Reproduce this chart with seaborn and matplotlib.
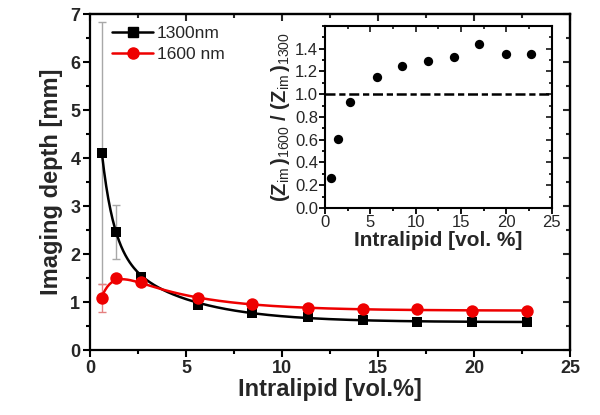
import numpy as np
import pandas as pd
import matplotlib
matplotlib.use("Agg")
import matplotlib.pyplot as plt
import seaborn as sns
from matplotlib.lines import Line2D
from matplotlib.ticker import MultipleLocator

# ---------------- data ----------------
conc = [0.62, 1.33, 2.68, 5.64, 8.46, 11.36, 14.2, 17.02, 19.92, 22.78]
depth_1300 = [4.10, 2.46, 1.52, 0.93, 0.77, 0.68, 0.63, 0.59, 0.59, 0.59]
err_1300 = [2.73, 0.56, 0.0, 0.0, 0.0, 0.0, 0.0, 0.0, 0.0, 0.0]
depth_1600 = [1.09, 1.51, 1.42, 1.09, 0.96, 0.88, 0.85, 0.85, 0.82, 0.82]
err_1600 = [0.29, 0.0, 0.0, 0.0, 0.0, 0.0, 0.0, 0.0, 0.0, 0.0]
ratio_conc = [0.68, 1.38, 2.76, 5.68, 8.5, 11.4, 14.2, 17.0, 19.9, 22.7]
ratio = [0.264, 0.61, 0.934, 1.15, 1.248, 1.295, 1.33, 1.44, 1.353, 1.353]

# fit-curve parameters
fit_1300 = dict(a=0.58, b1=5.31, t1=0.62, b2=1.85, t2=3.7)
fit_1600 = dict(a=0.82, b=1.2, t=3.8, c=2.14, t1=0.577)

labels = ["1300nm", "1600 nm"]
xticks_main = [0, 5, 10, 15, 20, 25]
yticks_main = [0, 1, 2, 3, 4, 5, 6, 7]
xticks_ins = [0, 5, 10, 15, 20, 25]
yticks_ins = [0.0, 0.2, 0.4, 0.6, 0.8, 1.0, 1.2, 1.4]

# ---------------- style ----------------
sns.set_theme(style="ticks")
plt.rcParams["font.family"] = ["Liberation Sans", "DejaVu Sans"]
plt.rcParams["mathtext.fontset"] = "custom"
plt.rcParams["mathtext.rm"] = "Liberation Sans"
plt.rcParams["mathtext.bf"] = "Liberation Sans:bold"
plt.rcParams["mathtext.it"] = "Liberation Sans:italic"

fig = plt.figure(figsize=(6, 4.15), dpi=100)
ax = fig.add_axes([0.15, 0.1566, 0.80, 0.8096])

xs = np.linspace(conc[0], conc[-1], 400)
p = fit_1300
y_fit1 = p["a"] + p["b1"] * np.exp(-xs / p["t1"]) + p["b2"] * np.exp(-xs / p["t2"])
q = fit_1600
y_fit2 = q["a"] + q["b"] * np.exp(-xs / q["t"]) - q["c"] * np.exp(-xs / q["t1"])

df_fit = pd.DataFrame({"x": np.concatenate([xs, xs]),
                       "y": np.concatenate([y_fit1, y_fit2]),
                       "s": [labels[0]] * len(xs) + [labels[1]] * len(xs)})

# error bars
ax.errorbar(conc, depth_1300, yerr=err_1300, fmt="none", ecolor="#a8a8a8",
            elinewidth=1.0, capsize=3, capthick=1.0, zorder=1)
ax.errorbar(conc, depth_1600, yerr=err_1600, fmt="none", ecolor="#e58080",
            elinewidth=1.0, capsize=3, capthick=1.0, zorder=1)

sns.lineplot(data=df_fit, x="x", y="y", hue="s", palette=["black", "#ee0000"],
             linewidth=1.8, legend=False, ax=ax, zorder=2)

df_pts = pd.DataFrame({"x": conc + conc, "y": depth_1300 + depth_1600,
                       "s": [labels[0]] * len(conc) + [labels[1]] * len(conc)})
sns.scatterplot(data=df_pts[df_pts.s == labels[0]], x="x", y="y", marker="s",
                color="black", s=60, edgecolor="black", linewidth=0, legend=False,
                ax=ax, zorder=3)
sns.scatterplot(data=df_pts[df_pts.s == labels[1]], x="x", y="y", marker="o",
                color="#ee0000", s=80, edgecolor="#ee0000", linewidth=0, legend=False,
                ax=ax, zorder=3)

ax.set_xlim(0, 25)
ax.set_ylim(0, 7)
ax.set_xticks(xticks_main)
ax.set_yticks(yticks_main)
ax.xaxis.set_minor_locator(MultipleLocator(2.5))
ax.yaxis.set_minor_locator(MultipleLocator(0.5))
ax.tick_params(which="major", direction="out", length=5, width=1.5,
               labelsize=13, pad=2, color="black")
ax.tick_params(which="minor", direction="out", length=3, width=1.5, color="black")
for t in ax.get_xticklabels() + ax.get_yticklabels():
    t.set_fontweight("bold")
for s in ax.spines.values():
    s.set_linewidth(1.6)
    s.set_color("black")
ax.set_xlabel("Intralipid [vol.%]", fontsize=17, fontweight="bold", labelpad=1)
ax.set_ylabel("Imaging depth [mm]", fontsize=17, fontweight="bold", labelpad=5)

# inward ticks on top/right
secx = ax.secondary_xaxis("top")
secx.set_xticks(xticks_main)
secx.xaxis.set_minor_locator(MultipleLocator(2.5))
secx.tick_params(which="major", direction="in", length=5, width=1.5, labeltop=False)
secx.tick_params(which="minor", direction="in", length=3, width=1.5)
secx.spines["top"].set_linewidth(1.6)
secy = ax.secondary_yaxis("right")
secy.set_yticks(yticks_main)
secy.yaxis.set_minor_locator(MultipleLocator(0.5))
secy.tick_params(which="major", direction="in", length=5, width=1.5, labelright=False)
secy.tick_params(which="minor", direction="in", length=3, width=1.5)
secy.spines["right"].set_linewidth(1.6)

handles = [Line2D([], [], color="black", marker="s", markersize=7, lw=1.8),
           Line2D([], [], color="#ee0000", marker="o", markersize=8, lw=1.8)]
ax.legend(handles, labels, loc="upper left", frameon=False, fontsize=12.5,
          handlelength=2.4, handletextpad=0.2, borderaxespad=0.3,
          bbox_to_anchor=(0.02, 1.0), labelspacing=0.3)

# ---------------- inset ----------------
ins = fig.add_axes([0.5417, 0.4988, 0.378, 0.4386])
df_r = pd.DataFrame({"x": ratio_conc, "y": ratio})
sns.scatterplot(data=df_r, x="x", y="y", color="black", s=45, linewidth=0,
                legend=False, ax=ins, zorder=3)
ins.axhline(1.0, color="black", lw=1.8, ls=(0, (4, 1.5, 2.5, 1.5)), zorder=2)
ins.set_xlim(0, 25)
ins.set_ylim(0, 1.6)
ins.set_xticks(xticks_ins)
ins.set_yticks(yticks_ins)
ins.set_yticklabels([f"{v:.1f}" for v in yticks_ins])
ins.xaxis.set_minor_locator(MultipleLocator(2.5))
ins.yaxis.set_minor_locator(MultipleLocator(0.1))
ins.tick_params(which="major", direction="out", length=4, width=1.3,
                labelsize=12, pad=1, color="black")
ins.tick_params(which="minor", direction="out", length=2.5, width=1.3, color="black")
for s in ins.spines.values():
    s.set_linewidth(1.5)
    s.set_color("black")
ins.set_xlabel("Intralipid [vol. %]", fontsize=15, fontweight="bold", labelpad=1)
ins.set_ylabel(r"$\mathbf{(Z}_{\mathrm{im}}\mathbf{\,)}_{\mathrm{1600}}\mathbf{\ /\ (Z}_{\mathrm{im}}\mathbf{\,)}_{\mathrm{1300}}$",
               fontsize=14.5, labelpad=2)
isx = ins.secondary_xaxis("top")
isx.set_xticks(xticks_ins)
isx.xaxis.set_minor_locator(MultipleLocator(2.5))
isx.tick_params(which="major", direction="in", length=4, width=1.3, labeltop=False)
isx.tick_params(which="minor", direction="in", length=2.5, width=1.3)
isy = ins.secondary_yaxis("right")
isy.set_yticks(yticks_ins)
isy.yaxis.set_minor_locator(MultipleLocator(0.1))
isy.tick_params(which="major", direction="in", length=4, width=1.3, labelright=False)
isy.tick_params(which="minor", direction="in", length=2.5, width=1.3)

fig.savefig("out.png", dpi=100)
